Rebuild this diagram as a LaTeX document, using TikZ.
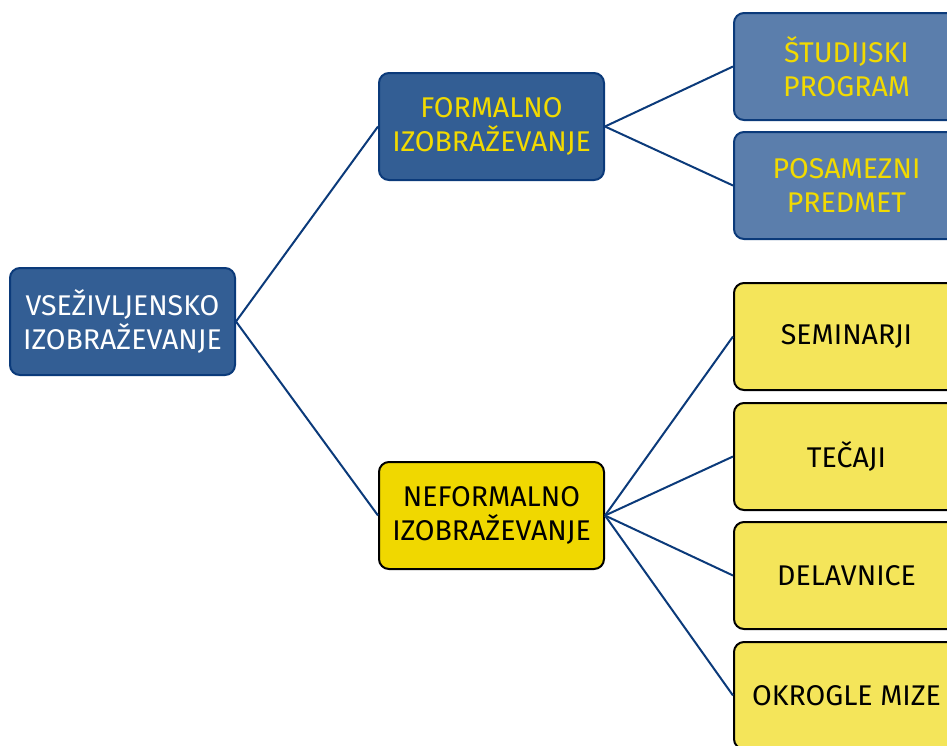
\documentclass[tikz,border=0pt]{standalone}
\usepackage{fontspec}
\setmainfont{Fira Sans}
\definecolor{navy}{HTML}{0B3A7A}
\definecolor{dblue}{HTML}{335E94}
\definecolor{lblue}{HTML}{5B7EAC}
\definecolor{dyel}{HTML}{F0D800}
\definecolor{lyel}{HTML}{F4E55A}
\definecolor{tyel}{HTML}{F2DA00}
\tikzset{
  box/.style={rounded corners=10pt, line width=2pt, minimum width=225pt, minimum height=107pt,
    align=center, inner sep=2pt, font=\fontsize{28.5}{34}\selectfont},
  bluebox/.style={box, draw=navy, fill=dblue},
  lbluebox/.style={box, draw=navy, fill=lblue, text=tyel},
  yelbox/.style={box, draw=black, fill=dyel, text=black},
  lyelbox/.style={box, draw=black, fill=lyel, text=black},
  conn/.style={draw=navy, line width=2pt}
}
\begin{document}
\begin{tikzpicture}[x=1pt,y=-1pt]
\useasboundingbox (0,0) rectangle (947,745);
\begin{scope}
\clip (0,0) rectangle (947,745);
\node[bluebox, text=white] (root) at (122.5,321.5) {VSEŽIVLJENSKO\\IZOBRAŽEVANJE};
\node[bluebox, text=tyel] (formal) at (491.5,126.5) {FORMALNO\\IZOBRAŽEVANJE};
\node[yelbox] (neformal) at (491.5,515.5) {NEFORMALNO\\IZOBRAŽEVANJE};
\node[lbluebox] (stud) at (846.5,66.5) {ŠTUDIJSKI\\PROGRAM};
\node[lbluebox] (posam) at (846.5,185.5) {POSAMEZNI\\PREDMET};
\node[lyelbox] (sem) at (846.5,336.5) {SEMINARJI};
\node[lyelbox] (tec) at (846.5,456.5) {TEČAJI};
\node[lyelbox] (del) at (846.5,575.5) {DELAVNICE};
\node[lyelbox] (okr) at (846.5,695.5) {OKROGLE MIZE};
\draw[conn] (root.east) -- (formal.west);
\draw[conn] (root.east) -- (neformal.west);
\draw[conn] (formal.east) -- (stud.west);
\draw[conn] (formal.east) -- (posam.west);
\draw[conn] (neformal.east) -- (sem.west);
\draw[conn] (neformal.east) -- (tec.west);
\draw[conn] (neformal.east) -- (del.west);
\draw[conn] (neformal.east) -- (okr.west);
\end{scope}
\end{tikzpicture}
\end{document}
